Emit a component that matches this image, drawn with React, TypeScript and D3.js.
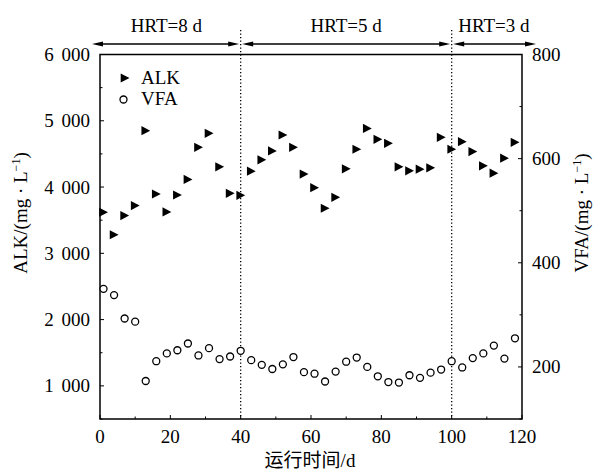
import React from 'react';
import * as d3 from 'd3';

const days = [1, 4, 7, 10, 13, 16, 19, 22, 25, 28, 31, 34, 37, 40, 43, 46, 49, 52, 55, 58, 61, 64, 67, 70, 73, 76, 79, 82, 85, 88, 91, 94, 97, 100, 103, 106, 109, 112, 115, 118];
const alk = [3620, 3280, 3570, 3720, 4850, 3895, 3625, 3880, 4115, 4600, 4810, 4305, 3905, 3875, 4240, 4410, 4545, 4785, 4600, 4195, 3990, 3680, 3845, 4275, 4570, 4885, 4720, 4660, 4305, 4245, 4270, 4290, 4750, 4570, 4685, 4535, 4320, 4210, 4435, 4675];
const vfa = [350, 338, 293, 287, 173, 211, 226, 232, 245, 222, 236, 215, 220, 231, 213, 204, 196, 205, 219, 190, 187, 172, 191, 210, 218, 200, 182, 171, 170, 184, 179, 189, 195, 211, 199, 217, 226, 241, 216, 255];

const alkTicks = [1000, 2000, 3000, 4000, 5000, 6000];
const alkMinor = [500, 1000, 1500, 2000, 2500, 3000, 3500, 4000, 4500, 5000, 5500, 6000];
const vfaTicks = [200, 400, 600, 800];
const vfaMinor = [100, 200, 300, 400, 500, 600, 700, 800];
const dayTicks = [0, 20, 40, 60, 80, 100, 120];
const dayMinor = [0, 10, 20, 30, 40, 50, 60, 70, 80, 90, 100, 110, 120];
const phaseLabels = ['HRT=8 d', 'HRT=5 d', 'HRT=3 d'];
const phaseBounds = [0, 40, 100, 120];
const dividers = [40, 100];

const W = 600, H = 474;
const L = 100, R = 522, T = 54.5, B = 419;
const FONT = '"Liberation Serif", "Times New Roman", serif';
const CJK = '"Liberation Serif", "Noto Sans CJK SC", serif';
const FS = 19;

const fmt = (v: number) => (v >= 1000 ? `${Math.floor(v / 1000)} ${String(v % 1000).padStart(3, '0')}` : String(v));

function tri(cx: number, cy: number) {
  return `M${cx - 4.3},${cy - 4.6} L${cx + 4.5},${cy} L${cx - 4.3},${cy + 4.6} Z`;
}

export default function App() {
  const x = d3.scaleLinear().domain([0, 120]).range([L, R]);
  const yL = d3.scaleLinear().domain([500, 6000]).range([B, T]);
  const yR = d3.scaleLinear().domain([100, 800]).range([B, T]);

  const arrowY = 44;
  const arrowX = [L - 8, x(phaseBounds[1]), x(phaseBounds[2]), R + 14];

  const headR = (tx: number, y: number) => `M${tx},${y} L${tx - 11},${y - 2.6} L${tx - 11},${y + 2.6} Z`;
  const headL = (tx: number, y: number) => `M${tx},${y} L${tx + 11},${y - 2.6} L${tx + 11},${y + 2.6} Z`;

  return (
    <svg width={W} height={H} style={{ position: 'absolute', left: 0, top: 0, background: '#fff' }} fontFamily={FONT}>
      <rect x={0} y={0} width={W} height={H} fill="#fff" />
      {phaseLabels.map((lab, i) => {
        const a = arrowX[i] + (i === 0 ? 0 : 1.5);
        const b = arrowX[i + 1] - (i === 2 ? 0 : 1.5);
        return (
          <g key={lab}>
            <line x1={a + 4} x2={b - 4} y1={arrowY} y2={arrowY} stroke="#000" strokeWidth={1.3} />
            <path d={headL(a, arrowY)} fill="#000" />
            <path d={headR(b, arrowY)} fill="#000" />
            <text x={(arrowX[i] + arrowX[i + 1]) / 2} y={32} textAnchor="middle" fontSize={FS}>{lab}</text>
          </g>
        );
      })}
      {dividers.map((d) => (
        <line key={d} x1={x(d)} x2={x(d)} y1={30} y2={B} stroke="#000" strokeWidth={1.3} strokeDasharray="1.3,2.2" />
      ))}
      <rect x={L} y={T} width={R - L} height={B - T} fill="none" stroke="#000" strokeWidth={1.5} />
      {dayMinor.map((d) => (
        <line key={'xm' + d} x1={x(d)} x2={x(d)} y1={B} y2={B - (dayTicks.includes(d) ? 4 : 2.5)} stroke="#000" strokeWidth={1} />
      ))}
      {dayTicks.map((d) => (
        <text key={'xt' + d} x={x(d)} y={443} textAnchor="middle" fontSize={FS}>{d}</text>
      ))}
      {alkMinor.map((v) => (
        <line key={'lm' + v} x1={L} x2={L + (alkTicks.includes(v) ? 4 : 2.5)} y1={yL(v)} y2={yL(v)} stroke="#000" strokeWidth={1} />
      ))}
      {alkTicks.map((v) => (
        <text key={'lt' + v} x={90} y={yL(v) + 6.5} textAnchor="end" fontSize={FS} wordSpacing={3}>{fmt(v)}</text>
      ))}
      {vfaMinor.map((v) => (
        <line key={'rm' + v} x1={R} x2={R - (vfaTicks.includes(v) ? 4 : 2.5)} y1={yR(v)} y2={yR(v)} stroke="#000" strokeWidth={1} />
      ))}
      {vfaTicks.map((v) => (
        <text key={'rt' + v} x={532} y={yR(v) + 6.5} textAnchor="start" fontSize={FS}>{fmt(v)}</text>
      ))}
      <text x={310} y={467} textAnchor="middle" fontSize={FS} fontFamily={CJK}>运行时间/d</text>
      <text transform={`translate(27,${213}) rotate(-90)`} textAnchor="middle" fontSize={FS}>
        ALK/(mg · L<tspan dy={-7} fontSize={12}>−1</tspan><tspan dy={7}>)</tspan>
      </text>
      <text transform={`translate(588,${213}) rotate(-90)`} textAnchor="middle" fontSize={FS}>
        VFA/(mg · L<tspan dy={-7} fontSize={12}>−1</tspan><tspan dy={7}>)</tspan>
      </text>
      {days.map((d, i) => (
        <circle key={'v' + d} cx={x(d)} cy={yR(vfa[i])} r={3.5} fill="#fff" stroke="#000" strokeWidth={1.3} />
      ))}
      {days.map((d, i) => (
        <path key={'a' + d} d={tri(x(d), yL(alk[i]))} fill="#000" />
      ))}
      <path d={tri(125, 78)} fill="#000" />
      <text x={141} y={84} fontSize={FS}>ALK</text>
      <circle cx={123.5} cy={99.5} r={3.5} fill="#fff" stroke="#000" strokeWidth={1.3} />
      <text x={141} y={105} fontSize={FS}>VFA</text>
    </svg>
  );
}
